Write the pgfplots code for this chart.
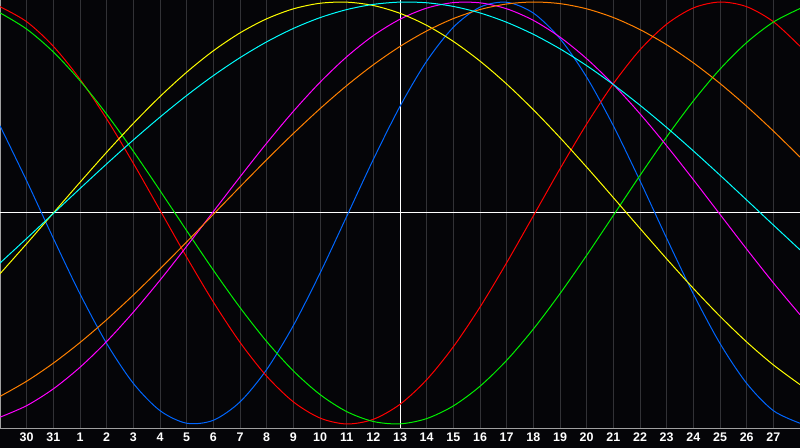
\documentclass[border=0pt]{standalone}
\usepackage{fontspec}
\setmainfont{Liberation Sans}
\usepackage{pgfplots}
\pgfplotsset{compat=1.18}

\definecolor{bg}{RGB}{5,5,8}
\definecolor{gridc}{RGB}{50,50,54}
\definecolor{framec}{RGB}{160,160,160}
\definecolor{cphys}{RGB}{0,102,255}
\definecolor{cemo}{RGB}{255,0,0}
\definecolor{cint}{RGB}{0,240,0}
\definecolor{cintu}{RGB}{255,0,255}
\definecolor{caes}{RGB}{255,255,0}
\definecolor{caware}{RGB}{255,128,0}
\definecolor{cspir}{RGB}{0,255,255}

% one row per day, value in -1..1
\begin{document}
\begin{tikzpicture}
\path[use as bounding box, fill=bg] (0,-20bp) rectangle (800bp,428bp);
\begin{axis}[
    scale only axis,
    width=800bp, height=428bp,
    xmin=0, xmax=30,
    ymin=-1.019, ymax=1.0095,
    axis background/.style={fill=bg},
    axis line style={framec, line width=1bp},
    xtick={1,...,29},
    xticklabels={30,31,1,2,3,4,5,6,7,8,9,10,11,12,13,14,15,16,17,18,19,20,21,22,23,24,25,26,27},
    ytick=\empty,
    major tick length=0pt,
    xmajorgrids,
    major grid style={gridc, line width=1bp},
    extra x ticks={15},
    extra x tick labels={},
    extra x tick style={major grid style={white, line width=1bp}},
    extra y ticks={0},
    extra y tick labels={},
    extra y tick style={ymajorgrids, major grid style={white, line width=1bp}},
    xticklabel style={font=\fontsize{12.5}{13}\selectfont\bfseries, text=white, yshift=-1.5bp},
    every axis plot/.append style={line width=1bp, smooth, no markers},
    clip=true,
]
% physical 23
\addplot[cphys] coordinates {
(0,0.4134) (1,0.1524) (2,-0.1199) (3,-0.3833) (4,-0.6183) (5,-0.8074) (6,-0.9367) (7,-0.9964)
(8,-0.9823) (9,-0.8953) (10,-0.7419) (11,-0.5335) (12,-0.2855) (13,-0.0164) (14,0.2540) (15,0.5055)
(16,0.7195) (17,0.8802) (18,0.9756) (19,0.9987) (20,0.9476) (21,0.8263) (22,0.6437) (23,0.4134)
(24,0.1524) (25,-0.1199) (26,-0.3833) (27,-0.6183) (28,-0.8074) (29,-0.9367) (30,-0.9964)};
% emotional 28
\addplot[cemo] coordinates {
(0,0.9778) (1,0.9067) (2,0.7902) (3,0.6340) (4,0.4460) (5,0.2356) (6,0.0135) (7,-0.2094)
(8,-0.4217) (9,-0.6129) (10,-0.7734) (11,-0.8950) (12,-0.9718) (13,-0.9999) (14,-0.9778) (15,-0.9067)
(16,-0.7902) (17,-0.6340) (18,-0.4460) (19,-0.2356) (20,-0.0135) (21,0.2094) (22,0.4217) (23,0.6129)
(24,0.7734) (25,0.8950) (26,0.9718) (27,0.9999) (28,0.9778) (29,0.9067) (30,0.7902)};
% intellectual 33
\addplot[cint] coordinates {
(0,0.9487) (1,0.8717) (2,0.7632) (3,0.6271) (4,0.4683) (5,0.2927) (6,0.1064) (7,-0.0837)
(8,-0.2708) (9,-0.4480) (10,-0.6091) (11,-0.7482) (12,-0.8603) (13,-0.9412) (14,-0.9881) (15,-0.9994)
(16,-0.9744) (17,-0.9143) (18,-0.8211) (19,-0.6983) (20,-0.5502) (21,-0.3822) (22,-0.2005) (23,-0.0114)
(24,0.1780) (25,0.3610) (26,0.5310) (27,0.6818) (28,0.8079) (29,0.9048) (30,0.9691)};
% intuitive 38
\addplot[cintu] coordinates {
(0,-0.9678) (1,-0.9131) (2,-0.8335) (3,-0.7312) (4,-0.6090) (5,-0.4701) (6,-0.3185) (7,-0.1581)
(8,0.0066) (9,0.1711) (10,0.3309) (11,0.4818) (12,0.6194) (13,0.7402) (14,0.8408) (15,0.9184)
(16,0.9710) (17,0.9971) (18,0.9960) (19,0.9678) (20,0.9131) (21,0.8335) (22,0.7312) (23,0.6090)
(24,0.4701) (25,0.3185) (26,0.1581) (27,-0.0066) (28,-0.1711) (29,-0.3309) (30,-0.4818)};
% aesthetic 43
\addplot[caes] coordinates {
(0,-0.2881) (1,-0.1456) (2,0) (3,0.1456) (4,0.2881) (5,0.4245) (6,0.5518) (7,0.6673)
(8,0.7687) (9,0.8536) (10,0.9203) (11,0.9675) (12,0.9940) (13,0.9993) (14,0.9834) (15,0.9464)
(16,0.8894) (17,0.8133) (18,0.7199) (19,0.6112) (20,0.4894) (21,0.3572) (22,0.2174) (23,0.0730)
(24,-0.0730) (25,-0.2174) (26,-0.3572) (27,-0.4894) (28,-0.6112) (29,-0.7199) (30,-0.8133)};
% awareness 48
\addplot[caware] coordinates {
(0,-0.8693) (1,-0.7973) (2,-0.7117) (3,-0.6139) (4,-0.5057) (5,-0.3887) (6,-0.2651) (7,-0.1370)
(8,-0.0065) (9,0.1240) (10,0.2525) (11,0.3766) (12,0.4943) (13,0.6036) (14,0.7025) (15,0.7894)
(16,0.8627) (17,0.9214) (18,0.9642) (19,0.9906) (20,1.0000) (21,0.9923) (22,0.9676) (23,0.9264)
(24,0.8693) (25,0.7973) (26,0.7117) (27,0.6139) (28,0.5057) (29,0.3887) (30,0.2651)};
% spiritual 53
\addplot[cspir] coordinates {
(0,-0.2372) (1,-0.1206) (2,-0.0024) (3,0.1159) (4,0.2326) (5,0.3460) (6,0.4545) (7,0.5567)
(8,0.6510) (9,0.7362) (10,0.8111) (11,0.8746) (12,0.9258) (13,0.9640) (14,0.9887) (15,0.9995)
(16,0.9963) (17,0.9790) (18,0.9481) (19,0.9038) (20,0.8469) (21,0.7780) (22,0.6983) (23,0.6087)
(24,0.5106) (25,0.4053) (26,0.2943) (27,0.1792) (28,0.0616) (29,-0.0569) (30,-0.1746)};
\end{axis}
\end{tikzpicture}
\end{document}
